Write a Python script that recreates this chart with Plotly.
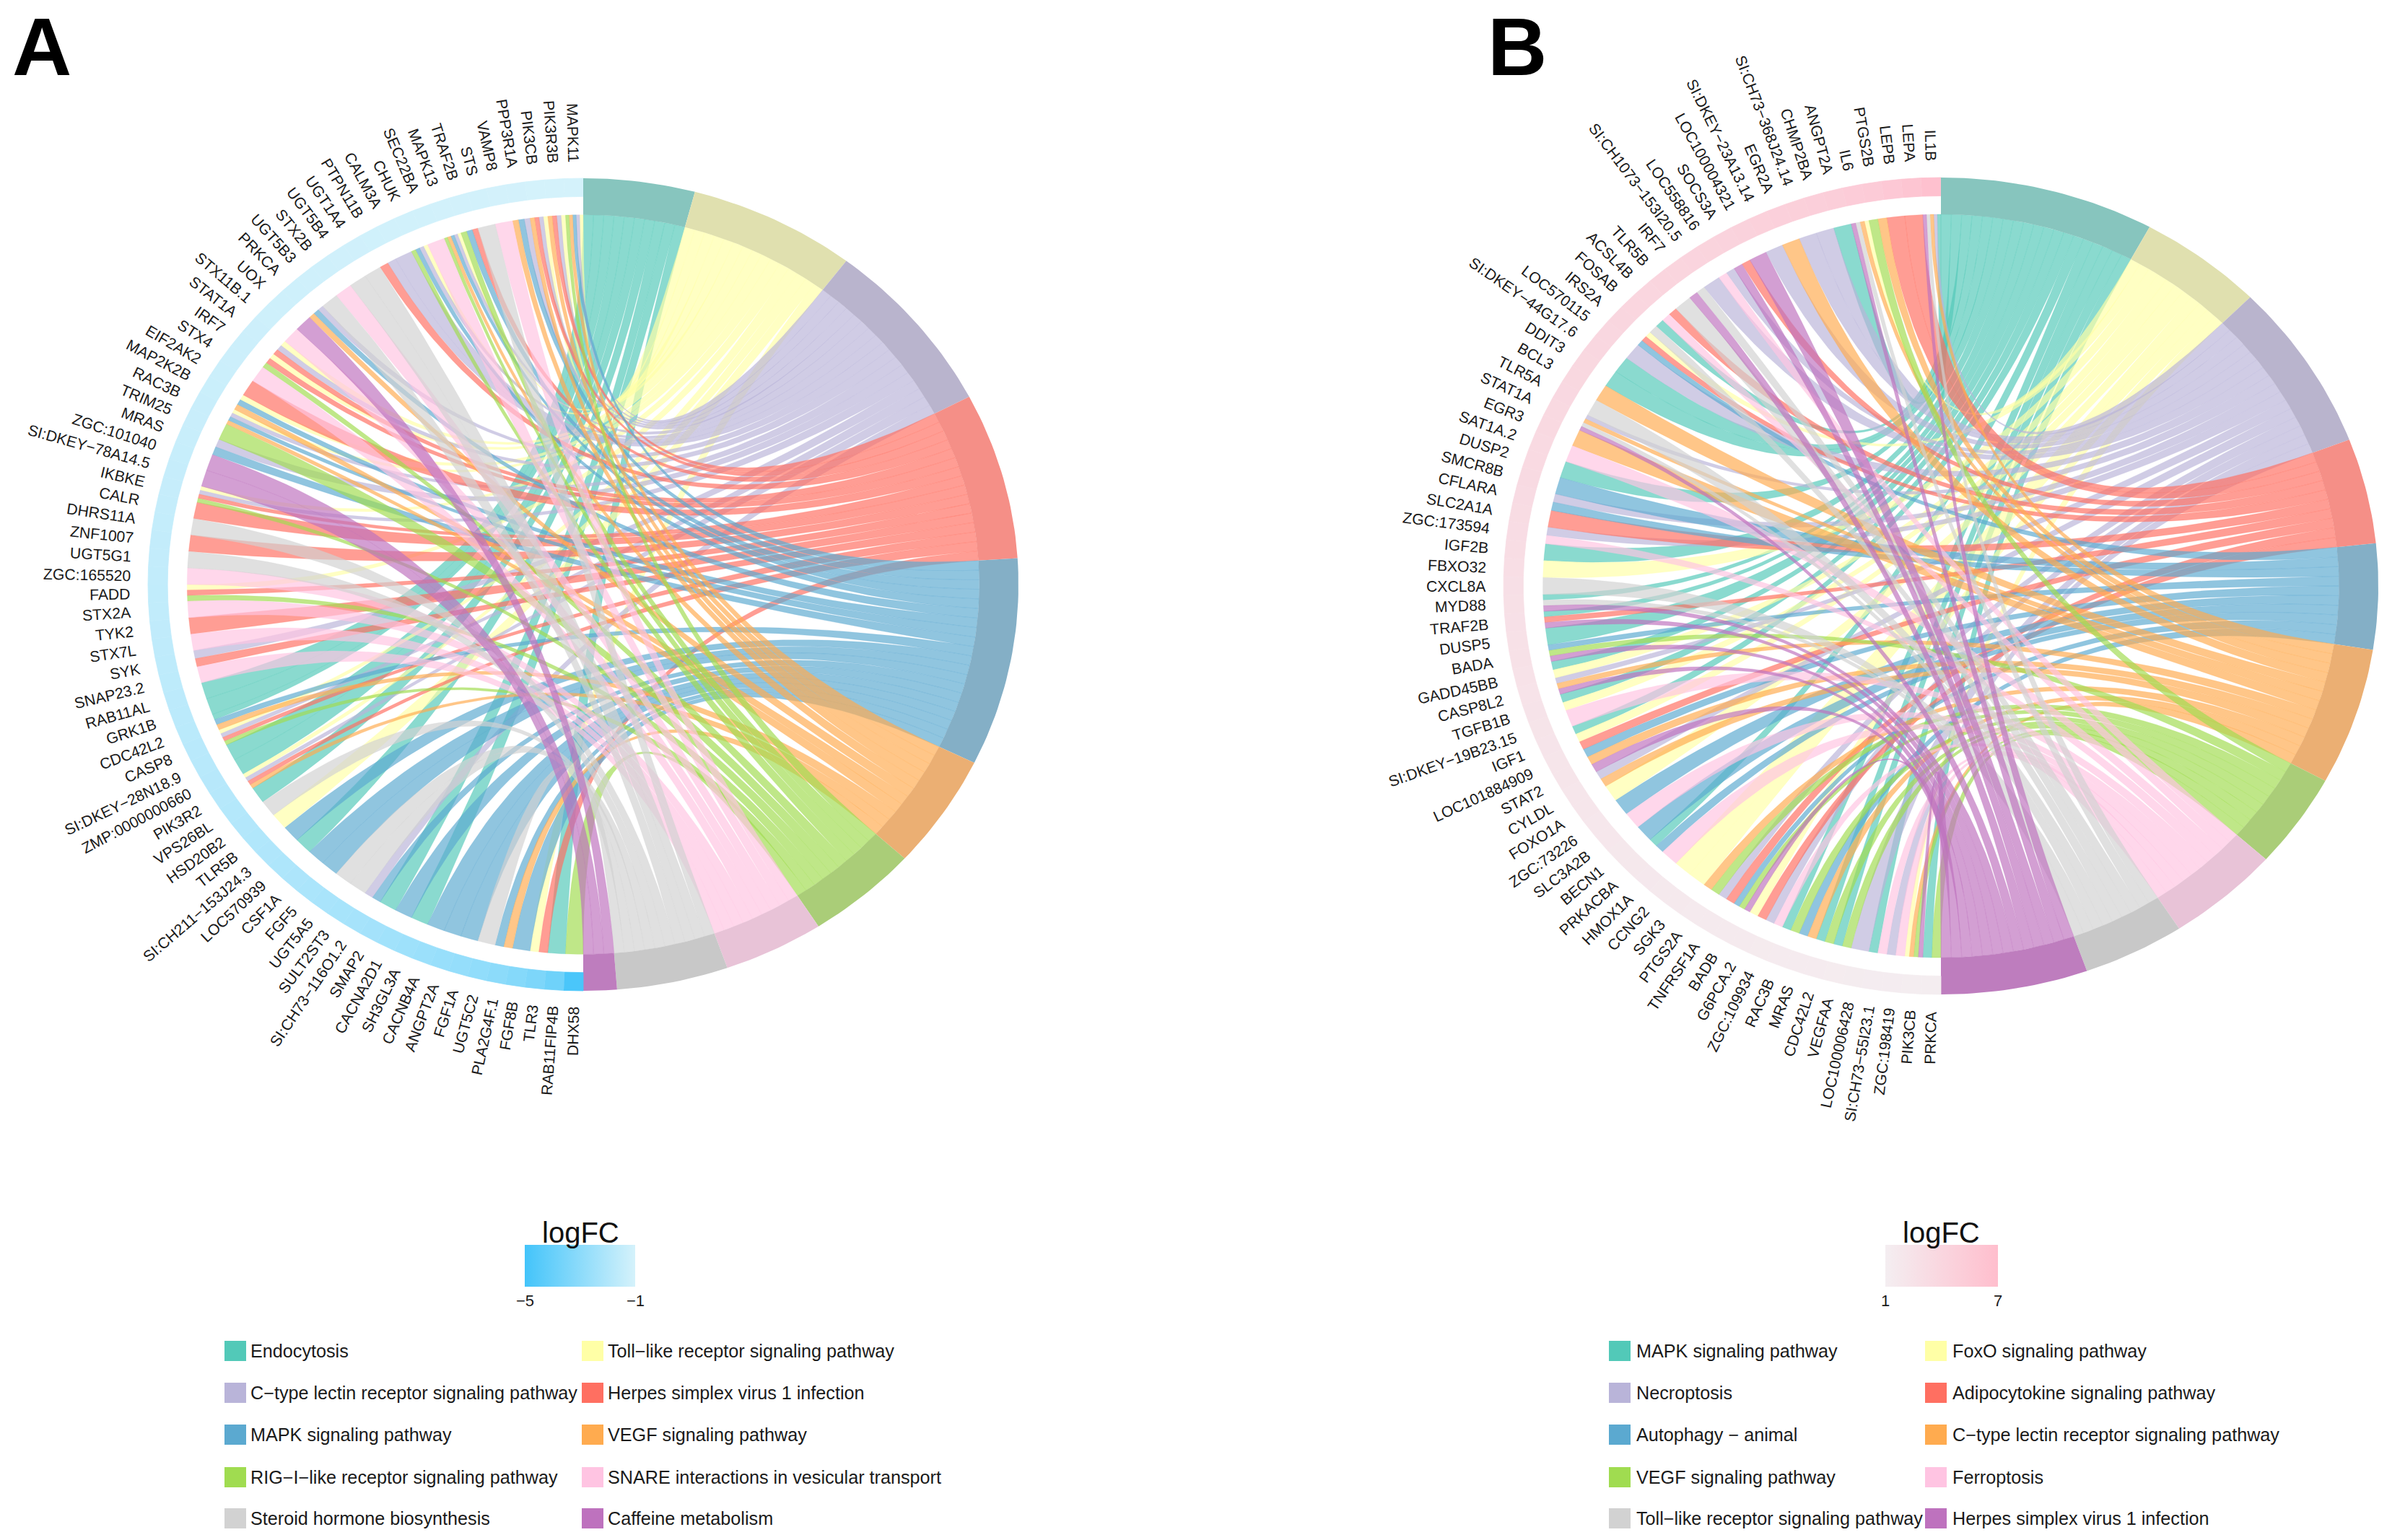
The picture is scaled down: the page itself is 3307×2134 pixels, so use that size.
import math
import plotly.graph_objects as go

W, H = 3307, 2134
CODES = "TYUSBOGPNM"

GENES_A = ["MAPK11","PIK3R3B","PIK3CB","PPP3R1A","VAMP8","STS","TRAF2B","MAPK13","SEC22BA","CHUK",
 "CALM3A","PTPN11B","UGT1A4","UGT5B4","STX2B","UGT5B3","PRKCA","UOX","STX11B.1","STAT1A",
 "IRF7","STX4","EIF2AK2","MAP2K2B","RAC3B","TRIM25","MRAS","ZGC:101040","SI:DKEY−78A14.5","IKBKE",
 "CALR","DHRS11A","ZNF1007","UGT5G1","ZGC:165520","FADD","STX2A","TYK2","STX7L","SYK",
 "SNAP23.2","RAB11AL","GRK1B","CDC42L2","CASP8","SI:DKEY−28N18.9","ZMP:0000000660","PIK3R2","VPS26BL","HSD20B2",
 "TLR5B","SI:CH211−153J24.3","LOC570939","CSF1A","FGF5","UGT5A5","SULT2ST3","SI:CH73−116O1.2","SMAP2","CACNA2D1",
 "SH3GL3A","CACNB4A","ANGPT2A","FGF1A","UGT5C2","PLA2G4F.1","FGF8B","TLR3","RAB11FIP4B","DHX58"]
LINKS_A = ["YUBOG","YUSO","YUSO","UBO","P","N","SBG","YUBOG","P","YUBG",
 "U","US","N","N","P","N","UBO","M","P","YUS",
 "YSG","P","S","YBO","YUBO","G","UB","M","M","YUSG",
 "S","N","S","N","P","YSG","P","S","P","US",
 "P","T","T","TBO","YUSG","T","T","YUSO","T","N",
 "Y","B","T","B","B","N","N","UB","T","B",
 "T","B","B","B","N","BO","B","YS","T","G"]
LOGFC_A = [-1.02,-1.03,-1.04,-1.05,-1.06,-1.07,-1.08,-1.09,-1.10,-1.11,
 -1.12,-1.13,-1.14,-1.15,-1.16,-1.17,-1.18,-1.19,-1.20,-1.22,
 -1.24,-1.26,-1.28,-1.30,-1.32,-1.34,-1.36,-1.38,-1.40,-1.42,
 -1.44,-1.46,-1.48,-1.50,-1.52,-1.54,-1.56,-1.58,-1.60,-1.62,
 -1.65,-1.68,-1.70,-1.73,-1.76,-1.80,-1.83,-1.86,-1.90,-1.94,
 -1.98,-2.02,-2.06,-2.10,-2.15,-2.20,-2.25,-2.30,-2.35,-2.42,
 -2.50,-2.58,-2.66,-2.75,-2.85,-3.0,-3.2,-3.4,-3.8,-4.8]
TERMS_A = ["Endocytosis","Toll−like receptor signaling pathway","C−type lectin receptor signaling pathway",
 "Herpes simplex virus 1 infection","MAPK signaling pathway","VEGF signaling pathway",
 "RIG−I−like receptor signaling pathway","SNARE interactions in vesicular transport",
 "Steroid hormone biosynthesis","Caffeine metabolism"]

GENES_B = ["IL1B","LEPA","LEPB","PTGS2B","IL6","ANGPT2A","CHMP2BA","SI:CH73−368J24.14","EGR2A","SI:DKEY−23A13.14",
 "LOC100004321","SOCS3A","LOC558816","SI:CH1073−153I20.5","IRF7","TLR5B","ACSL4B","FOSAB","IRS2A","LOC570115",
 "SI:DKEY−44G17.6","DDIT3","BCL3","TLR5A","STAT1A","EGR3","SAT1A.2","DUSP2","SMCR8B","CFLARA",
 "SLC2A1A","ZGC:173594","IGF2B","FBXO32","CXCL8A","MYD88","TRAF2B","DUSP5","BADA","GADD45BB",
 "CASP8L2","TGFB1B","SI:DKEY−19B23.15","IGF1","LOC101884909","STAT2","CYLDL","FOXO1A","ZGC:73226","SLC3A2B",
 "BECN1","PRKACBA","HMOX1A","CCNG2","SGK3","PTGS2A","TNFRSF1A","BADB","G6PCA.2","ZGC:109934",
 "RAC3B","MRAS","CDC42L2","VEGFAA","LOC100006428","SI:CH73−55I23.1","ZGC:198419","PIK3CB","PRKCA"]
LINKS_B = ["TUONM","S","S","OG","YONM","T","U","U","O","U",
 "M","SM","UP","U","NM","N","SP","TN","YSB","U",
 "T","T","O","N","UONM","O","P","T","B","UB",
 "S","UP","T","Y","N","TNM","TSM","T","BGM","TY",
 "UOM","TY","P","TY","SB","OM","UO","Y","B","P",
 "B","TB","P","Y","Y","OG","US","BGM","YS","UP",
 "TG","BO","TG","TG","U","TP","UP","YOGM","TG"]
LOGFC_B = [6.6,6.1,5.7,5.4,5.2,5.0,4.9,4.8,4.7,4.6,
 4.5,4.4,4.3,4.2,4.15,4.1,4.05,4.0,3.95,3.9,
 3.85,3.8,3.75,3.7,3.65,3.6,3.55,3.5,3.45,3.4,
 3.3,3.2,3.1,3.0,2.9,2.8,2.7,2.65,2.6,2.5,
 2.4,2.35,2.3,2.2,2.15,2.1,2.0,1.95,1.9,1.85,
 1.8,1.75,1.7,1.65,1.6,1.55,1.5,1.48,1.45,1.42,
 1.4,1.37,1.34,1.3,1.27,1.24,1.2,1.15,1.1]
TERMS_B = ["MAPK signaling pathway","FoxO signaling pathway","Necroptosis","Adipocytokine signaling pathway",
 "Autophagy − animal","C−type lectin receptor signaling pathway","VEGF signaling pathway","Ferroptosis",
 "Toll−like receptor signaling pathway","Herpes simplex virus 1 infection"]

SWATCH = ["#52C9B8","#FFFFA6","#B9B4D9","#FF6F61","#5BA9D0","#FFAB4F","#A0DC50","#FFC4E2","#D2D2D2","#BE72BE"]
BAND = ["#87C5BE","#E0E0AF","#B9B4CD","#F58F87","#84AFC6","#EBAF73","#AACD78","#E8C3D7","#C8C8C8","#BE7DBE"]
CHORD_ALPHA = 0.68
FONT = "Liberation Sans"
R_CHORD, R_RING, R_LABEL = 0.91, 0.955, 1.04
YSPAN = 1.3
LEGEND_ROWS = [1872, 1930, 1988, 2047, 2104]


def rgba(hexc, a):
    return "rgba(%d,%d,%d,%.3f)" % (int(hexc[1:3], 16), int(hexc[3:5], 16), int(hexc[5:7], 16), a)


def lerp_hex(c0, c1, f):
    f = max(0, min(1, f))
    v = [round(int(c0[i:i+2], 16) + (int(c1[i:i+2], 16) - int(c0[i:i+2], 16)) * f) for i in (1, 3, 5)]
    return "rgb(%d,%d,%d)" % tuple(v)


def pt(deg, r, side):
    a = math.radians(deg)
    return (side * r * math.sin(a), r * math.cos(a))


def arc(d0, d1, r, side, n=6):
    return [pt(d0 + (d1 - d0) * k / n, r, side) for k in range(n + 1)]


def bez(p0, p1, n=48):
    return [((1 - t)**2 * p0[0] + t**2 * p1[0], (1 - t)**2 * p0[1] + t**2 * p1[1]) for t in [k / n for k in range(n + 1)]]


fig = go.Figure()


def add_poly(pts, color, ax, line=None):
    fig.add_trace(go.Scatter(x=[p[0] for p in pts], y=[p[1] for p in pts], mode="lines", fill="toself",
                             fillcolor=color, line=line or dict(width=0), hoverinfo="skip", showlegend=False,
                             xaxis=ax[0], yaxis=ax[1]))


annots = []
shapes = []


def panel(genes, links, logfc, terms, ax, rx, ry, lo, hi, cmin, cmax, bar):
    g = 180.0 / len(genes)
    counts = [sum(l.count(c) for l in links) for c in CODES]
    u = 180.0 / sum(counts)
    starts = []
    s = 0.0
    for c in counts:
        starts.append(s)
        s += c * u
    used = [0] * len(CODES)
    chords = {c: [] for c in CODES}
    for i, lk in enumerate(links):
        w = g / len(lk)
        for j, c in enumerate(lk):
            ti = CODES.index(c)
            t0 = starts[ti] + used[ti] * u
            used[ti] += 1
            chords[c].append((i * g + j * w, i * g + (j + 1) * w, t0, t0 + u))
    for ti, c in enumerate(CODES):
        col = rgba(SWATCH[ti], CHORD_ALPHA)
        edge = dict(width=0.8, color=rgba(SWATCH[ti], 0.3))
        for g0, g1, t0, t1 in chords[c]:
            p = bez(pt(g0, R_CHORD, -1), pt(t0, R_CHORD, 1))
            p += arc(t0, t1, R_CHORD, 1, 3)
            p += bez(pt(t1, R_CHORD, 1), pt(g1, R_CHORD, -1))
            p += arc(g1, g0, R_CHORD, -1, 3)
            add_poly(p, col, ax, edge)
    for ti in range(len(CODES)):
        d0 = starts[ti]
        d1 = d0 + counts[ti] * u
        n = max(6, int(d1 - d0))
        add_poly(arc(d0, d1, R_CHORD, 1, n) + arc(d1, d0, 1.0, 1, n), BAND[ti], ax)
    for i, v in enumerate(logfc):
        col = lerp_hex(lo, hi, (v - cmin) / (cmax - cmin))
        p = arc(i * g, (i + 1) * g, R_RING, -1, 4) + arc((i + 1) * g, i * g, 1.0, -1, 4)
        add_poly(p, col, ax, dict(width=0.8, color=col))
    fs = 21.2
    h = fs * 1.15
    for i, name in enumerate(genes):
        th = (i + 0.5) * g
        x, y = pt(th, R_LABEL, -1)
        a = math.radians(th)
        ang = math.degrees(math.atan2(ry * math.cos(a), rx * math.sin(a)))
        sa, ca = abs(math.sin(math.radians(ang))), math.cos(math.radians(ang))
        annots.append(dict(x=x, y=y, xref=ax[0], yref=ax[1], text=name, showarrow=False, textangle=ang,
                           font=dict(family=FONT, size=fs, color="#1a1a1a"), borderpad=0, borderwidth=0,
                           xanchor="right", yanchor="bottom" if ang >= 0 else "top",
                           xshift=h / 2 * sa, yshift=(-h / 2 * ca) if ang >= 0 else (h / 2 * ca)))
    fig.add_trace(go.Scatter(x=[None] * len(logfc), y=[None] * len(logfc), mode="markers", showlegend=False,
                             hoverinfo="skip", xaxis=ax[0], yaxis=ax[1],
                             marker=dict(color=logfc, cmin=cmin, cmax=cmax, showscale=True,
                                         colorscale=[[0, lo], [1, hi]],
                                         colorbar=dict(orientation="h", x=bar["x"] / W, xanchor="center",
                                                       y=1 - 1725 / H, yanchor="top", len=bar["len"], lenmode="pixels",
                                                       thickness=58, thicknessmode="pixels", outlinewidth=0,
                                                       xpad=0, ypad=0, tickmode="array", tickvals=[cmin, cmax],
                                                       ticktext=bar["ticks"], ticks="", ticklen=0,
                                                       tickfont=dict(family=FONT, size=22, color="#1a1a1a")))))
    annots.append(dict(x=bar["tx"] / W, y=1 - 1708 / H, xref="paper", yref="paper", text="logFC", showarrow=False,
                       font=dict(family=FONT, size=40, color="#111"), xanchor="center", yanchor="middle"))
    for idx, term in enumerate(terms):
        row, col = idx // 2, idx % 2
        yc = LEGEND_ROWS[row]
        x0 = bar["sw"][col]
        shapes.append(dict(type="rect", xref="paper", yref="paper", x0=x0 / W, x1=(x0 + 30) / W,
                           y0=1 - (yc + 14) / H, y1=1 - (yc - 14) / H, fillcolor=SWATCH[idx], line=dict(width=0)))
        annots.append(dict(x=(x0 + bar["gap"]) / W, y=1 - yc / H, xref="paper", yref="paper", text=term,
                           showarrow=False, xanchor="left", yanchor="middle",
                           font=dict(family=FONT, size=25.2, color="#1a1a1a")))


def domain(cx, cy, rx, ry, xr):
    return dict(xd=[max(0, (cx + xr[0] * rx) / W), min(1, (cx + xr[1] * rx) / W)],
                yd=[1 - (cy + YSPAN * ry) / H, 1 - (cy - YSPAN * ry) / H])


AX = dict(visible=False, showgrid=False, zeroline=False, fixedrange=True)
xrA = [-1.3, 1.3]
dA = domain(808, 810, 603, 563, xrA)
xrB = [-1.3, (W - 2689) / 606]
dB = domain(2689, 812, 606, 566, xrB)

panel(GENES_A, LINKS_A, LOGFC_A, TERMS_A, ("x", "y"), 603, 563, "#43C4FA", "#D5F2FB", -5, -1,
      dict(x=804, len=153, ticks=["−5", "−1"], tx=804, sw=[311, 806], gap=34))
panel(GENES_B, LINKS_B, LOGFC_B, TERMS_B, ("x2", "y2"), 606, 566, "#F4EEF1", "#FFBECD", 1, 7,
      dict(x=2690, len=156, ticks=["1", "7"], tx=2689, sw=[2229, 2667], gap=36))

for letter, xc in (("A", 58), ("B", 2102)):
    annots.append(dict(x=xc / W, y=1, xref="paper", yref="paper", text="<b>%s</b>" % letter,
                       showarrow=False, xanchor="center", yanchor="top", borderpad=0,
                       font=dict(family=FONT, size=114, color="#000")))

fig.update_layout(width=W, height=H, margin=dict(l=0, r=0, t=0, b=0, pad=0), paper_bgcolor="white",
                  plot_bgcolor="white", showlegend=False, annotations=annots, shapes=shapes,
                  font=dict(family=FONT),
                  xaxis=dict(AX, domain=dA["xd"], range=xrA, anchor="y"),
                  yaxis=dict(AX, domain=dA["yd"], range=[-YSPAN, YSPAN], anchor="x"),
                  xaxis2=dict(AX, domain=dB["xd"], range=xrB, anchor="y2"),
                  yaxis2=dict(AX, domain=dB["yd"], range=[-YSPAN, YSPAN], anchor="x2"))

fig.write_html("out.html", config=dict(displayModeBar=False),
               post_script="document.body.style.margin='0';")
